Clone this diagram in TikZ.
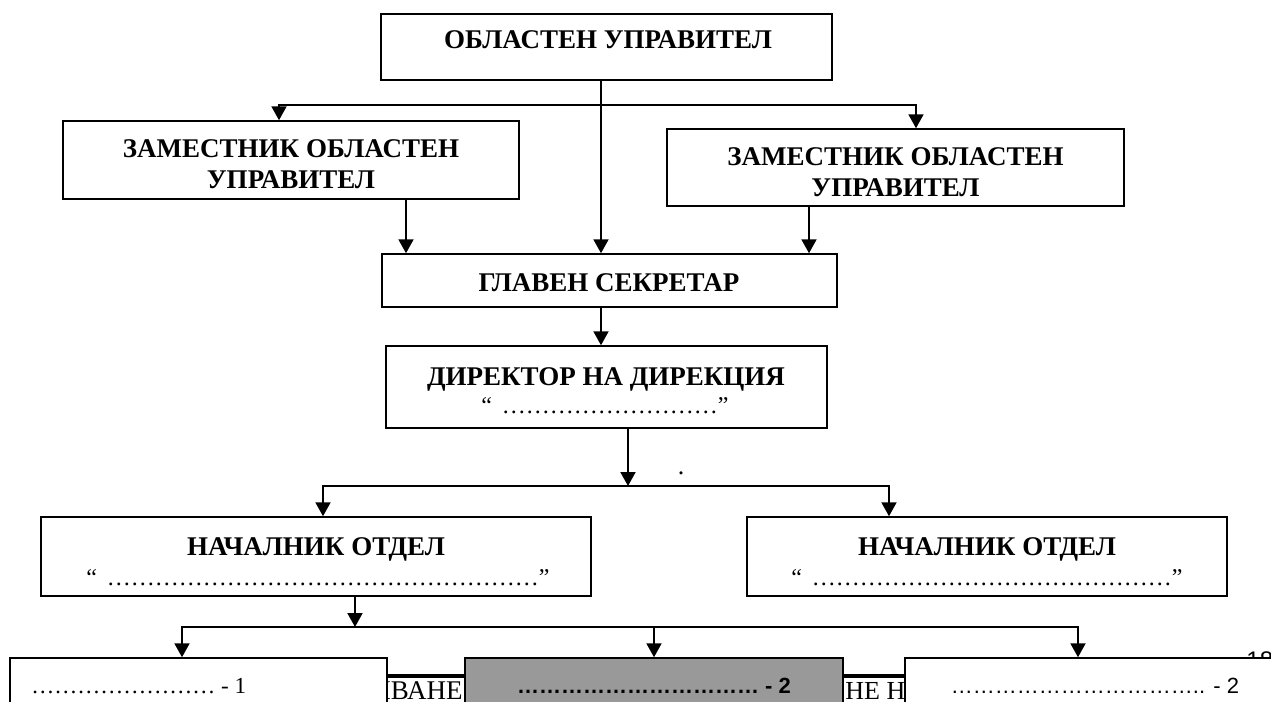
\documentclass[tikz,border=0pt]{standalone}
\usepackage{fontspec}
\setmainfont{Liberation Serif}
\setsansfont{Liberation Sans}
\usepackage{tikz}
\usetikzlibrary{arrows.meta}
\usetikzlibrary{fit}

\definecolor{boxgray}{RGB}{153,153,153}
\newcommand\dotrun[1]{\foreach \k in {1,...,#1}{…}}
\tikzset{
    box/.style={draw, line width=0.75pt, fill=white, inner sep=0pt},
    hd/.style={font=\fontsize{13.5}{15.5}\selectfont\bfseries, inner sep=0pt, align=center},
    dotline/.style={font=\fontsize{12}{14}\selectfont, inner sep=0pt},
    pagetxt/.style={font=\fontsize{13}{15}\selectfont, inner sep=0pt},
    arr/.style={line width=1pt, -{Triangle[length=7pt,width=7.5pt]}},
}

\begin{document}
\begin{tikzpicture}[x=0.5pt,y=-0.5pt]
    \useasboundingbox (0,0) rectangle (1271,702);
    \clip (0,0) rectangle (1271,702);
    % page header, partly under the lowest boxes
    \draw[line width=2pt] (387,676) -- (905,676);
    \node[pagetxt, font=\fontsize{13.5}{15}\selectfont, anchor=base east] (hdl) at (463,699) {ИВАНЕ};
    \node[pagetxt, anchor=base west] (hdr) at (845,699) {НЕ НА};
    \node[pagetxt, font=\fontsize{12}{14}\sffamily, anchor=base west] (pgno) at (1246,668) {18};

    \node[box, fit={(381,14) (832,80)}] (obl) {};
    \node[box, fit={(63,121) (519,199)}] (dep1) {};
    \node[box, fit={(667,129) (1124,206)}] (dep2) {};
    \node[box, fit={(382,254) (837,307)}] (glav) {};
    \node[box, fit={(386,346) (827,428)}] (dir) {};
    \node[box, fit={(41,517) (591,596)}] (nach1) {};
    \node[box, fit={(747,517) (1227,596)}] (nach2) {};
    \node[box, fit={(10,658) (387,740)}] (bot1) {};
    \node[box, fill=boxgray, fit={(465,658) (843,740)}] (bot2) {};
    \node[box, fit={(905,658) (1285,740)}] (bot3) {};

    \node[hd, anchor=base] (tobl) at (608,48) {ОБЛАСТЕН УПРАВИТЕЛ};
    \node[hd] (tdep1) at (291,164) {ЗАМЕСТНИК ОБЛАСТЕН\\УПРАВИТЕЛ};
    \node[hd] (tdep2) at (895.5,172) {ЗАМЕСТНИК ОБЛАСТЕН\\УПРАВИТЕЛ};
    \node[hd, anchor=base] (tglav) at (609,291) {ГЛАВЕН СЕКРЕТАР};
    \node[hd, anchor=base] (tdir) at (606,385) {ДИРЕКТОР НА ДИРЕКЦИЯ};
    \node[dotline, anchor=base] (qdir) at (605,413) {“\hspace{5pt}\dotrun{9}”};
    \node[hd, anchor=base] (tnach1) at (316,555) {НАЧАЛНИК ОТДЕЛ};
    \node[dotline, anchor=base] (qnach1) at (318,585) {“\hspace{5pt}\dotrun{18}”};
    \node[hd, anchor=base] (tnach2) at (987,555) {НАЧАЛНИК ОТДЕЛ};
    \node[dotline, anchor=base] (qnach2) at (987,585) {“\hspace{5pt}\dotrun{15}”};
    \node[pagetxt, font=\fontsize{11.5}{13}\selectfont, anchor=base west] (tbot1) at (31,693) {\dotrun{8} - 1};
    \node[pagetxt, font=\fontsize{11}{13}\sffamily\bfseries, anchor=base] (tbot2) at (654,693) {\dotrun{11} - 2};
    \node[pagetxt, font=\fontsize{11}{13}\sffamily, anchor=base] (tbot3) at (1095,693) {\dotrun{11}.. - 2};
    \node[pagetxt, anchor=base] (dot) at (681,474) {.};

    \coordinate (s0) at (601,105);
    \coordinate (s1) at (279,105);
    \coordinate (s2) at (916,105);
    \coordinate (d1) at (406,230);
    \coordinate (d2) at (809,230);
    \coordinate (s3) at (628,486);
    \coordinate (s4) at (323,486);
    \coordinate (s5) at (889,486);
    \coordinate (s6) at (355,627);
    \coordinate (s7) at (182,627);
    \coordinate (s8) at (654,627);
    \coordinate (s9) at (1078,627);

    \draw[arr] (s0 |- obl.south) -- (s0 |- glav.north);
    \draw[arr] (s0) -| (s1 |- dep1.north);
    \draw[arr] (s0) -| (s2 |- dep2.north);
    \draw[arr] (d1 |- dep1.south) -- (d1 |- glav.north);
    \draw[arr] (d2 |- dep2.south) -- (d2 |- glav.north);
    \draw[arr] (s0 |- glav.south) -- (s0 |- dir.north);
    \draw[arr] (s3 |- dir.south) -- (s3);
    \draw[arr] (s3) -| (s4 |- nach1.north);
    \draw[arr] (s3) -| (s5 |- nach2.north);
    \draw[arr] (s6 |- nach1.south) -- (s6);
    \draw[arr] (s6) -| (s7 |- bot1.north);
    \draw[arr] (s6) -| (s9 |- bot3.north);
    \draw[arr] (s8) -- (s8 |- bot2.north);
\end{tikzpicture}
\end{document}
